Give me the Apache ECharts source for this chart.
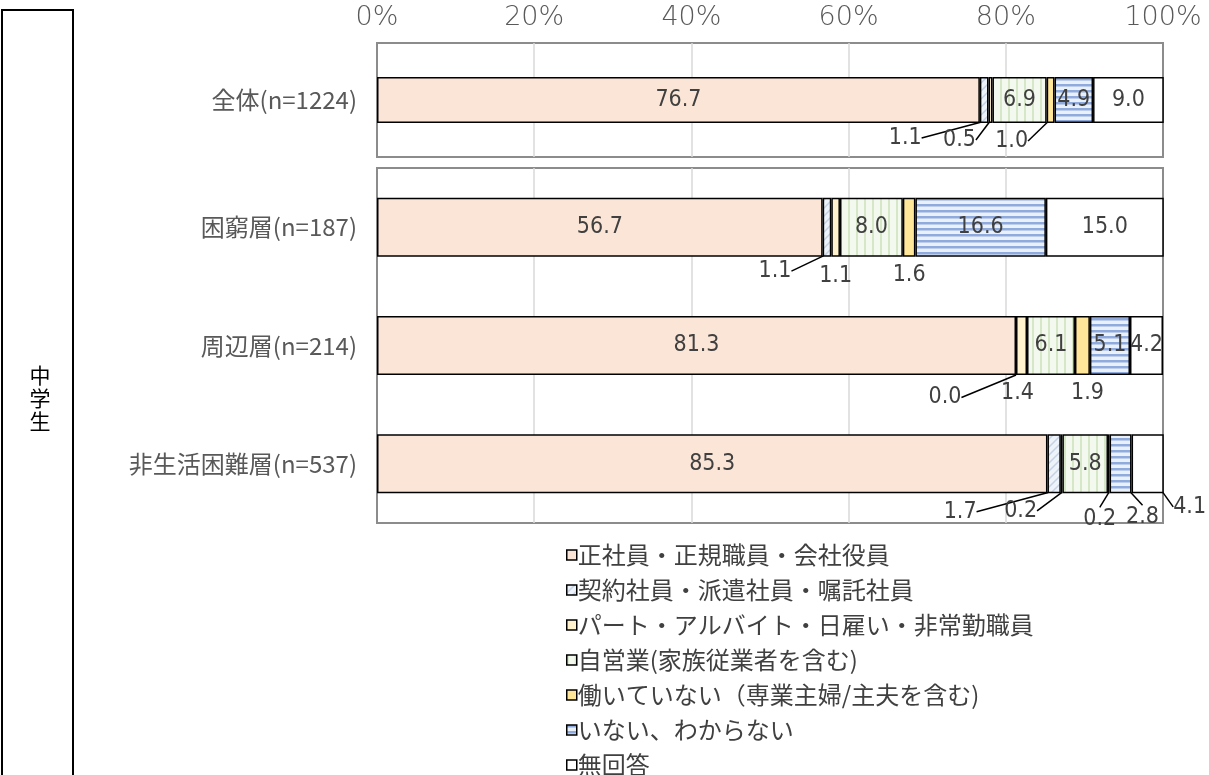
<!DOCTYPE html>
<html>
<head>
<meta charset="utf-8">
<script src="https://cdn.jsdelivr.net/npm/echarts@6/dist/echarts.min.js"></script>
<style>
  html, body { margin: 0; padding: 0; background: #fff; }
  #main { width: 1209px; height: 775px; }
</style>
</head>
<body>
<div id="main"></div>
<script>
// data
var topCategory = ['全体(n=1224)'];
var groupCategories = ['困窮層(n=187)', '周辺層(n=214)', '非生活困難層(n=537)'];
var seriesNames = [
    '正社員・正規職員・会社役員',
    '契約社員・派遣社員・嘱託社員',
    'パート・アルバイト・日雇い・非常勤職員',
    '自営業(家族従業者を含む)',
    '働いていない（専業主婦/主夫を含む)',
    'いない、わからない',
    '無回答'
];
// values per series: [全体, 困窮層, 周辺層, 非生活困難層]
var seiShain   = [76.7, 56.7, 81.3, 85.3];
var keiyaku    = [1.1, 1.1, 0.0, 1.7];
var part       = [0.5, 1.1, 1.4, 0.2];
var jieigyo    = [6.9, 8.0, 6.1, 5.8];
var hataraite  = [1.0, 1.6, 1.9, 0.2];
var inai       = [4.9, 16.6, 5.1, 2.8];
var mukaitou   = [9.0, 15.0, 4.2, 4.1];
var tickLabels = ['0%', '20%', '40%', '60%', '80%', '100%'];

var allValues = [seiShain, keiyaku, part, jieigyo, hataraite, inai, mukaitou];

// label offsets for the small segments: key "series_row" -> [dx, dy, line]
var LABEL_MOVE = {
    '1_0': [-79, 38, true],
    '2_0': [-31, 40, true],
    '4_0': [-39, 41, true],
    '1_1': [-52, 44, true],
    '2_1': [0, 49, false],
    '4_1': [0, 48, false],
    '1_2': [-71, 52, true],
    '2_2': [-4, 48, false],
    '4_2': [5, 48, false],
    '1_3': [-94, 48, true],
    '2_3': [-41, 47, true],
    '4_3': [-9, 55, true],
    '5_3': [22, 53, true],
    '6_3': [42, 43, true]
};

function makePattern(w, h, draw)
{
    var c = document.createElement('canvas');
    c.width = w;
    c.height = h;
    draw(c.getContext('2d'));
    return { image: c, repeat: 'repeat' };
}

var diagFill = makePattern(8, 8, function(g) {
    g.fillStyle = '#eef3f9';
    g.fillRect(0, 0, 8, 8);
    g.strokeStyle = '#c3d2e4';
    g.lineWidth = 1.5;
    g.beginPath();
    g.moveTo(0, 8); g.lineTo(8, 0);
    g.moveTo(-2, 2); g.lineTo(2, -2);
    g.moveTo(6, 10); g.lineTo(10, 6);
    g.stroke();
});
var vStripeFill = makePattern(8, 8, function(g) {
    g.fillStyle = '#f4f9ef';
    g.fillRect(0, 0, 8, 8);
    g.fillStyle = '#d6e7c7';
    g.fillRect(0, 0, 2, 8);
});
var hStripeFill = makePattern(6, 6, function(g) {
    g.fillStyle = '#eaf0f8';
    g.fillRect(0, 0, 6, 6);
    g.fillStyle = '#8faadc';
    g.fillRect(0, 0, 6, 2.5);
});

var fills = ['#fbe5d6', diagFill, '#fff2cc', vStripeFill, '#ffe699', hStripeFill, '#ffffff'];

var valueFont = "'Liberation Sans Narrow', 'DejaVu Sans Condensed', sans-serif";
var jpFont = "'Noto Sans CJK JP', sans-serif";

function buildData(values, rowOffset, count, s)
{
    var out = [];
    for (var i = 0; i < count; i++) {
        var mv = LABEL_MOVE[s + '_' + (i + rowOffset)];
        out.push({
            value: values[i + rowOffset],
            labelLine: { show: mv ? mv[2] : false }
        });
    }
    return out;
}

function labelMover(rowOffset)
{
    return function(p) {
        var mv = LABEL_MOVE[p.seriesIndex % 7 + '_' + (p.dataIndex + rowOffset)];
        if (!mv) return {};
        return { dx: mv[0], dy: mv[1] };
    };
}

var series = [];
[0, 1].forEach(function(gi) {
    for (var s = 0; s < 7; s++) {
        var rowOffset = gi === 0 ? 0 : 1;
        var count = gi === 0 ? 1 : 3;
        series.push({
            name: seriesNames[s],
            type: 'bar',
            stack: 'g' + gi,
            xAxisIndex: gi,
            yAxisIndex: gi,
            barWidth: gi === 0 ? 46 : 59,
            data: buildData(allValues[s], rowOffset, count, s),
            itemStyle: {
                color: fills[s],
                borderColor: '#000',
                borderWidth: 1.5
            },
            label: {
                show: true,
                position: 'inside',
                color: '#404040',
                fontSize: 23,
                fontFamily: valueFont,
                formatter: function(p) { return p.value.toFixed(1); }
            },
            labelLine: {
                show: true,
                lineStyle: { color: '#000', width: 1.5 }
            },
            labelLayout: labelMover(rowOffset),
            emphasis: { disabled: true },
            animation: false
        });
    }
});

function xAxisDef(gi)
{
    return {
        type: 'value',
        gridIndex: gi,
        min: 0,
        max: 100,
        interval: 20,
        position: 'top',
        axisLine: { show: false },
        axisTick: { show: false },
        axisLabel: {
            show: gi === 0,
            margin: 12,
            color: '#595959',
            fontSize: 27,
            fontWeight: 200,
            fontFamily: "'DejaVu Sans', sans-serif",
            formatter: function(v) { return tickLabels[v / 20]; }
        },
        splitLine: {
            showMinLine: false,
            showMaxLine: false,
            lineStyle: { color: '#d9d9d9', width: 1.5 }
        }
    };
}

function yAxisDef(gi, cats)
{
    return {
        type: 'category',
        gridIndex: gi,
        data: cats,
        inverse: true,
        axisLine: { show: false },
        axisTick: { show: false },
        axisLabel: {
            margin: 20,
            color: '#595959',
            fontSize: 24,
            fontFamily: jpFont
        }
    };
}

var chart = echarts.init(document.getElementById('main'));
chart.setOption({
    backgroundColor: '#fff',
    animation: false,
    grid: [
        { left: 377, width: 786, top: 43, height: 114, show: true,
          borderColor: '#8c8c8c', borderWidth: 2, containLabel: false },
        { left: 377, width: 786, top: 168, height: 355, show: true,
          borderColor: '#8c8c8c', borderWidth: 2, containLabel: false }
    ],
    xAxis: [xAxisDef(0), xAxisDef(1)],
    yAxis: [yAxisDef(0, topCategory), yAxisDef(1, groupCategories)],
    legend: {
        orient: 'vertical',
        left: 566,
        top: 543,
        width: 500,
        height: 300,
        padding: 0,
        itemGap: 11,
        itemWidth: 10,
        itemHeight: 10,
        icon: 'rect',
        itemStyle: { borderColor: '#000', borderWidth: 1.5 },
        textStyle: {
            color: '#404040',
            fontSize: 24,
            lineHeight: 24,
            padding: [0, 0, 0, -4],
            fontFamily: jpFont
        },
        data: seriesNames
    },
    graphic: [
        {
            type: 'rect',
            shape: { x: 2, y: 10, width: 71, height: 820 },
            style: { fill: 'none', stroke: '#000', lineWidth: 2 }
        },
        {
            type: 'text',
            x: 40,
            y: 398,
            style: {
                text: '中\n学\n生',
                fill: '#000',
                fontSize: 21,
                lineHeight: 23,
                align: 'center',
                verticalAlign: 'middle',
                fontFamily: jpFont
            }
        }
    ],
    series: series
});
</script>
</body>
</html>
